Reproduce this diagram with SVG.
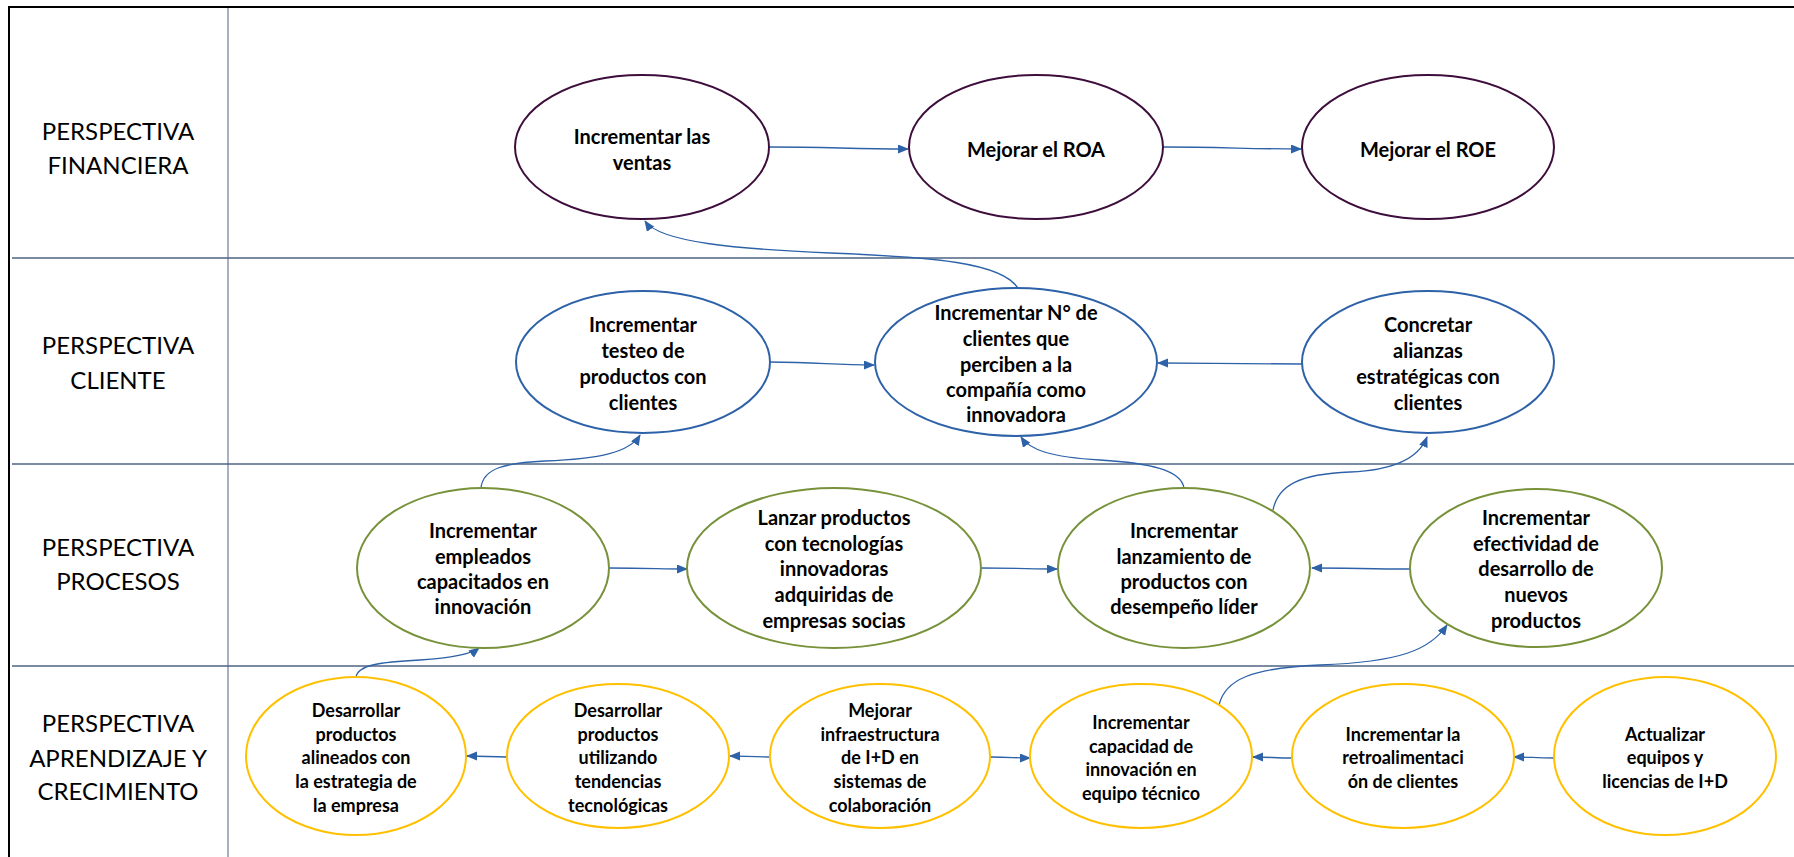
<svg xmlns="http://www.w3.org/2000/svg" width="1794" height="857" viewBox="0 0 1794 857">
<defs>
<marker id="ah" markerUnits="userSpaceOnUse" markerWidth="11" markerHeight="10" refX="10" refY="4.5" orient="auto">
<path d="M0,0 L11,4.5 L0,9 z" fill="#2e62a8"/>
</marker>
<style>
.lbl{font-family:Lato,"Liberation Sans",sans-serif;font-size:24px;fill:#000;text-anchor:middle}
.t{font-family:Lato,"Liberation Sans",sans-serif;font-weight:bold;font-size:20px;fill:#000;text-anchor:middle}
.t4{font-family:Lato,"Liberation Sans",sans-serif;font-weight:bold;font-size:18px;fill:#000;text-anchor:middle}
.fin{fill:#fff;stroke:#3d0d3b;stroke-width:2}
.cli{fill:#fff;stroke:#2e62a8;stroke-width:2}
.pro{fill:#fff;stroke:#77923a;stroke-width:2}
.apr{fill:#fff;stroke:#ffc000;stroke-width:2}
.c{fill:none;stroke:#2e62a8;stroke-width:1.3;marker-end:url(#ah)}
</style>
</defs>
<rect width="1794" height="857" fill="#fff"/>
<g id="grid">
<line x1="9" y1="7" x2="1794" y2="7" stroke="#000" stroke-width="2"/>
<line x1="9" y1="6" x2="9" y2="857" stroke="#000" stroke-width="2"/>
<line x1="228" y1="8" x2="228" y2="857" stroke="#8c96a8" stroke-width="1.5"/>
<line x1="12" y1="258" x2="1794" y2="258" stroke="#4e6382" stroke-width="1.5"/>
<line x1="12" y1="464" x2="1794" y2="464" stroke="#4e6382" stroke-width="1.5"/>
<line x1="12" y1="666" x2="1794" y2="666" stroke="#4e6382" stroke-width="1.5"/>
</g>
<g id="labels">
<text class="lbl" x="118" y="140">PERSPECTIVA</text>
<text class="lbl" x="118" y="174">FINANCIERA</text>
<text class="lbl" x="118" y="354">PERSPECTIVA</text>
<text class="lbl" x="118" y="389">CLIENTE</text>
<text class="lbl" x="118" y="556">PERSPECTIVA</text>
<text class="lbl" x="118" y="590">PROCESOS</text>
<text class="lbl" x="118" y="732">PERSPECTIVA</text>
<text class="lbl" x="118" y="767">APRENDIZAJE Y</text>
<text class="lbl" x="118" y="800">CRECIMIENTO</text>
</g>
<g id="connectors">
<path class="c" d="M769,147 C830,147 850,149 908,149"/>
<path class="c" d="M1163,147 C1220,147 1250,149 1301,149"/>
<path class="c" d="M1019,290 C1005,262 930,257 830,253 C740,249 660,243 645,221"/>
<path class="c" d="M769,362 C820,362 830,365 874,365"/>
<path class="c" d="M1302,364 C1240,364 1210,363 1158,363"/>
<path class="c" d="M481,488 C483,468 505,463 545,461 C600,459 630,452 640,435"/>
<path class="c" d="M1184,488 C1181,470 1150,463 1100,460 C1050,457 1030,450 1021,437"/>
<path class="c" d="M1273,510 C1278,485 1300,474 1350,472 C1400,470 1420,455 1427,437"/>
<path class="c" d="M609,568 C650,568 660,569 687,569"/>
<path class="c" d="M981,568 C1020,568 1030,569 1057,569"/>
<path class="c" d="M1410,569 C1370,569 1350,568 1312,568"/>
<path class="c" d="M356,677 C358,665 380,662 420,660 C450,658 470,655 479,648"/>
<path class="c" d="M507,757 C490,757 485,756 467,756"/>
<path class="c" d="M769,757 C750,757 745,756 730,756"/>
<path class="c" d="M990,757 C1010,757 1015,758 1030,758"/>
<path class="c" d="M1292,758 C1275,758 1270,757 1253,757"/>
<path class="c" d="M1554,758 C1535,758 1530,757 1514,757"/>
<path class="c" d="M1219,705 C1225,680 1250,668 1320,665 C1400,662 1430,650 1447,625"/>
</g>
<g id="n1"><ellipse class="fin" cx="642" cy="147" rx="127" ry="72"/>
<text class="t" x="642" y="144">Incrementar las</text><text class="t" x="642" y="170">ventas</text></g>
<g id="n2"><ellipse class="fin" cx="1036" cy="147" rx="127" ry="72"/>
<text class="t" x="1036" y="157">Mejorar el ROA</text></g>
<g id="n3"><ellipse class="fin" cx="1428" cy="147" rx="126" ry="72"/>
<text class="t" x="1428" y="157">Mejorar el ROE</text></g>
<g id="n4"><ellipse class="cli" cx="643" cy="362" rx="127" ry="71"/>
<text class="t" x="643" y="332">Incrementar</text><text class="t" x="643" y="358">testeo de</text><text class="t" x="643" y="384">productos con</text><text class="t" x="643" y="410">clientes</text></g>
<g id="n5"><ellipse class="cli" cx="1016" cy="362" rx="141" ry="74"/>
<text class="t" x="1016" y="320">Incrementar N° de</text><text class="t" x="1016" y="346">clientes que</text><text class="t" x="1016" y="372">perciben a la</text><text class="t" x="1016" y="397">compañía como</text><text class="t" x="1016" y="422">innovadora</text></g>
<g id="n6"><ellipse class="cli" cx="1428" cy="362" rx="126" ry="71"/>
<text class="t" x="1428" y="332">Concretar</text><text class="t" x="1428" y="358">alianzas</text><text class="t" x="1428" y="384">estratégicas con</text><text class="t" x="1428" y="410">clientes</text></g>
<g id="n7"><ellipse class="pro" cx="483" cy="568" rx="126" ry="80"/>
<text class="t" x="483" y="538">Incrementar</text><text class="t" x="483" y="564">empleados</text><text class="t" x="483" y="589">capacitados en</text><text class="t" x="483" y="614">innovación</text></g>
<g id="n8"><ellipse class="pro" cx="834" cy="568" rx="147" ry="80"/>
<text class="t" x="834" y="525">Lanzar productos</text><text class="t" x="834" y="551">con tecnologías</text><text class="t" x="834" y="576">innovadoras</text><text class="t" x="834" y="602">adquiridas de</text><text class="t" x="834" y="628">empresas socias</text></g>
<g id="n9"><ellipse class="pro" cx="1184" cy="568" rx="126" ry="80"/>
<text class="t" x="1184" y="538">Incrementar</text><text class="t" x="1184" y="564">lanzamiento de</text><text class="t" x="1184" y="589">productos con</text><text class="t" x="1184" y="614">desempeño líder</text></g>
<g id="n10"><ellipse class="pro" cx="1536" cy="568" rx="126" ry="79"/>
<text class="t" x="1536" y="525">Incrementar</text><text class="t" x="1536" y="551">efectividad de</text><text class="t" x="1536" y="576">desarrollo de</text><text class="t" x="1536" y="602">nuevos</text><text class="t" x="1536" y="628">productos</text></g>
<g id="n11"><ellipse class="apr" cx="356" cy="756" rx="110" ry="79"/>
<text class="t4" x="356" y="717">Desarrollar</text><text class="t4" x="356" y="741">productos</text><text class="t4" x="356" y="764">alineados con</text><text class="t4" x="356" y="788">la estrategia de</text><text class="t4" x="356" y="812">la empresa</text></g>
<g id="n12"><ellipse class="apr" cx="618" cy="756" rx="111" ry="72"/>
<text class="t4" x="618" y="717">Desarrollar</text><text class="t4" x="618" y="741">productos</text><text class="t4" x="618" y="764">utilizando</text><text class="t4" x="618" y="788">tendencias</text><text class="t4" x="618" y="812">tecnológicas</text></g>
<g id="n13"><ellipse class="apr" cx="880" cy="756" rx="110" ry="72"/>
<text class="t4" x="880" y="717">Mejorar</text><text class="t4" x="880" y="741">infraestructura</text><text class="t4" x="880" y="764">de I+D en</text><text class="t4" x="880" y="788">sistemas de</text><text class="t4" x="880" y="812">colaboración</text></g>
<g id="n14"><ellipse class="apr" cx="1141" cy="756" rx="111" ry="72"/>
<text class="t4" x="1141" y="729">Incrementar</text><text class="t4" x="1141" y="753">capacidad de</text><text class="t4" x="1141" y="776">innovación en</text><text class="t4" x="1141" y="800">equipo técnico</text></g>
<g id="n15"><ellipse class="apr" cx="1403" cy="756" rx="111" ry="72"/>
<text class="t4" x="1403" y="741">Incrementar la</text><text class="t4" x="1403" y="764">retroalimentaci</text><text class="t4" x="1403" y="788">ón de clientes</text></g>
<g id="n16"><ellipse class="apr" cx="1665" cy="756" rx="111" ry="79"/>
<text class="t4" x="1665" y="741">Actualizar</text><text class="t4" x="1665" y="764">equipos y</text><text class="t4" x="1665" y="788">licencias de I+D</text></g>
</svg>
